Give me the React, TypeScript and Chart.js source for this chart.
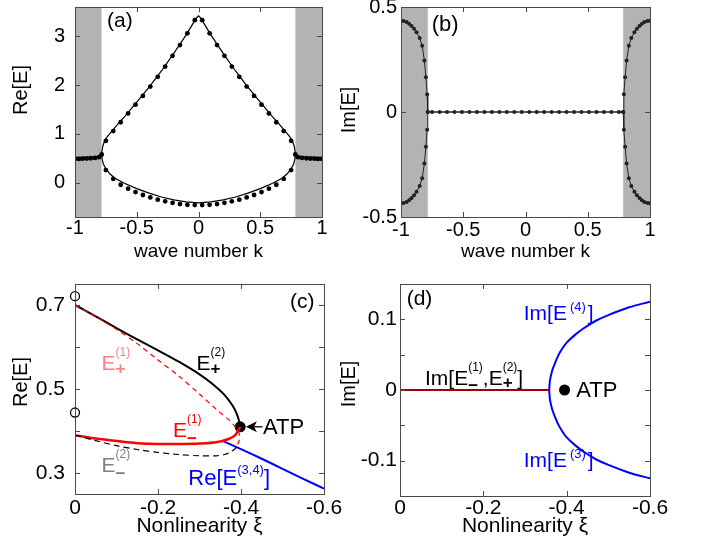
import React, { useEffect, useRef } from "react";
import { Chart, registerables } from "chart.js";

Chart.register(...registerables);

const FONT = '"Liberation Sans", Arial, Helvetica, sans-serif';
Chart.defaults.font.family = FONT;

// ---------------- Panel (a): Re[E] vs wave number k ----------------
const kA_upperLine = [-1, -0.95, -0.9, -0.85, -0.82, -0.8, -0.785, -0.775, -0.76, -0.74, -0.72, -0.65, -0.6, -0.5, -0.4, -0.3, -0.2, -0.1, -0.05, -0.02, 0, 0.02, 0.05, 0.1, 0.2, 0.3, 0.4, 0.5, 0.6, 0.65, 0.72, 0.74, 0.76, 0.775, 0.785, 0.8, 0.82, 0.85, 0.9, 0.95, 1];
const reA_upperLine = [0.52, 0.52, 0.525, 0.53, 0.54, 0.55, 0.6, 0.75, 0.86, 0.94, 1.0, 1.21, 1.35, 1.65, 1.96, 2.29, 2.65, 3.03, 3.24, 3.37, 3.42, 3.37, 3.24, 3.03, 2.65, 2.29, 1.96, 1.65, 1.35, 1.21, 1.0, 0.94, 0.86, 0.75, 0.6, 0.55, 0.54, 0.53, 0.525, 0.52, 0.52];
const kA_lowerLine = [-0.785, -0.78, -0.77, -0.75, -0.72, -0.68, -0.6, -0.5, -0.4, -0.3, -0.2, -0.1, 0, 0.1, 0.2, 0.3, 0.4, 0.5, 0.6, 0.68, 0.72, 0.75, 0.77, 0.78, 0.785];
const reA_lowerLine = [0.6, 0.48, 0.38, 0.29, 0.19, 0.1, -0.01, -0.12, -0.21, -0.29, -0.35, -0.39, -0.41, -0.39, -0.35, -0.29, -0.21, -0.12, -0.01, 0.1, 0.19, 0.29, 0.38, 0.48, 0.6];
const kA_dotsFlat = [-1, -0.968, -0.938, -0.905, -0.873, -0.838, -0.806, -0.784, 0.784, 0.806, 0.838, 0.873, 0.905, 0.938, 0.968, 1];
const reA_dotsFlat = [0.49, 0.49, 0.495, 0.497, 0.503, 0.51, 0.524, 0.58, 0.58, 0.524, 0.51, 0.503, 0.497, 0.495, 0.49, 0.49];
const kA_dotsBand = [-0.75, -0.69, -0.63, -0.57, -0.51, -0.45, -0.39, -0.33, -0.27, -0.21, -0.15, -0.09, -0.03, 0.03, 0.09, 0.15, 0.21, 0.27, 0.33, 0.39, 0.45, 0.51, 0.57, 0.63, 0.69, 0.75];
const reA_dotsUpper = [0.86, 1.06, 1.24, 1.42, 1.6, 1.78, 1.97, 2.17, 2.38, 2.6, 2.82, 3.06, 3.33, 3.33, 3.06, 2.82, 2.6, 2.38, 2.17, 1.97, 1.78, 1.6, 1.42, 1.24, 1.06, 0.86];
const reA_dotsLower = [0.26, 0.08, -0.04, -0.12, -0.19, -0.25, -0.3, -0.345, -0.38, -0.41, -0.435, -0.45, -0.455, -0.455, -0.45, -0.435, -0.41, -0.38, -0.345, -0.3, -0.25, -0.19, -0.12, -0.04, 0.08, 0.26];
const A_BANDS = [[-1, -0.785], [0.785, 1]];
const A_X_TICKS = [-1, -0.5, 0, 0.5, 1];
const A_Y_TICKS = [0, 1, 2, 3];

// ---------------- Panel (b): Im[E] vs wave number k ----------------
const kB_path = [-1, -0.98, -0.955, -0.935, -0.915, -0.895, -0.875, -0.85, -0.83, -0.812, -0.8, -0.79, -0.785, 0.785, 0.79, 0.8, 0.812, 0.83, 0.85, 0.875, 0.895, 0.915, 0.935, 0.955, 0.98, 1];
const imB_pathUp = [0.435, 0.433, 0.428, 0.42, 0.41, 0.397, 0.38, 0.352, 0.315, 0.245, 0.165, 0.085, 0, 0, 0.085, 0.165, 0.245, 0.315, 0.352, 0.38, 0.397, 0.41, 0.42, 0.428, 0.433, 0.435];
const imB_pathDown = [-0.435, -0.433, -0.428, -0.42, -0.41, -0.397, -0.38, -0.352, -0.315, -0.245, -0.165, -0.085, 0, 0, -0.085, -0.165, -0.245, -0.315, -0.352, -0.38, -0.397, -0.41, -0.42, -0.428, -0.433, -0.435];
const kB_dotsMid = [-0.75, -0.69, -0.63, -0.57, -0.51, -0.45, -0.39, -0.33, -0.27, -0.21, -0.15, -0.09, -0.03, 0.03, 0.09, 0.15, 0.21, 0.27, 0.33, 0.39, 0.45, 0.51, 0.57, 0.63, 0.69, 0.75];
const imB_dotsMid = [0, 0, 0, 0, 0, 0, 0, 0, 0, 0, 0, 0, 0, 0, 0, 0, 0, 0, 0, 0, 0, 0, 0, 0, 0, 0];
const B_BANDS = [[-1, -0.785], [0.785, 1]];
const B_X_TICKS = [-1, -0.5, 0, 0.5, 1];
const B_Y_TICKS = [-0.5, 0, 0.5];

// ---------------- Panel (c): Re[E] vs nonlinearity ----------------
const xiC_Ep2 = [0, -0.05, -0.1, -0.15, -0.2, -0.25, -0.3, -0.33, -0.36, -0.38, -0.39, -0.395, -0.398];
const reC_Ep2 = [0.7, 0.673, 0.645, 0.618, 0.592, 0.565, 0.535, 0.513, 0.486, 0.46, 0.44, 0.425, 0.41];
const xiC_Ep1 = [0, -0.05, -0.1, -0.15, -0.2, -0.25, -0.3, -0.34, -0.37, -0.386, -0.394, -0.397, -0.395, -0.392];
const reC_Ep1 = [0.7, 0.672, 0.642, 0.608, 0.569, 0.531, 0.488, 0.452, 0.427, 0.41, 0.398, 0.386, 0.375, 0.368];
const xiC_Em1 = [0, -0.05, -0.1, -0.15, -0.2, -0.26, -0.3, -0.34, -0.37, -0.386, -0.394, -0.398];
const reC_Em1 = [0.39, 0.382, 0.376, 0.371, 0.369, 0.369, 0.37, 0.373, 0.381, 0.39, 0.403, 0.41];
const xiC_Em2 = [0, -0.05, -0.1, -0.15, -0.2, -0.25, -0.3, -0.34, -0.36, -0.375, -0.388, -0.392];
const reC_Em2 = [0.39, 0.377, 0.365, 0.356, 0.349, 0.344, 0.341, 0.341, 0.344, 0.35, 0.36, 0.368];
const xiC_E34 = [-0.357, -0.4, -0.45, -0.5, -0.55, -0.6];
const reC_E34 = [0.376, 0.357, 0.334, 0.31, 0.286, 0.263];
const xiC_open = [0, 0];
const reC_open = [0.721, 0.444];
const xiC_atp = [-0.398];
const reC_atp = [0.41];
const C_X_TICKS = [0, -0.2, -0.4, -0.6];
const C_Y_TICKS = [0.3, 0.5, 0.7];
const C_Y_MARKS = [0.3, 0.4, 0.5, 0.6, 0.7];

// ---------------- Panel (d): Im[E] vs nonlinearity ----------------
const xiD_real = [0, -0.358];
const imD_real = [0, 0];
const xiD_branch = [-0.358, -0.36, -0.365, -0.37, -0.38, -0.39, -0.4, -0.42, -0.44, -0.47, -0.5, -0.55, -0.6];
const imD_E4 = [0, 0.014, 0.027, 0.035, 0.049, 0.059, 0.067, 0.078, 0.087, 0.098, 0.106, 0.117, 0.125];
const imD_E3 = [0, -0.014, -0.027, -0.035, -0.049, -0.059, -0.067, -0.078, -0.087, -0.098, -0.106, -0.117, -0.125];
const xiD_atp = [-0.395];
const imD_atp = [0];
const D_X_TICKS = [0, -0.2, -0.4, -0.6];
const D_Y_TICKS = [-0.1, 0, 0.1];
const D_Y_MARKS = [-0.1, -0.05, 0, 0.05, 0.1];

// ---------------- helpers ----------------
const pts = (xs: number[], ys: number[]) => xs.map((x, i) => ({ x, y: ys[i] }));

type Seg = { t: string; size: number; dy?: number; dx?: number; bold?: boolean; stack?: boolean };

function drawRich(ctx: CanvasRenderingContext2D, x: number, y: number, segs: Seg[], color: string) {
  ctx.save();
  ctx.fillStyle = color;
  ctx.textAlign = "left";
  ctx.textBaseline = "alphabetic";
  let cursor = x;
  let segStart = x;
  for (const s of segs) {
    ctx.font = `${s.bold ? "bold " : ""}${s.size}px ${FONT}`;
    const w = ctx.measureText(s.t).width;
    const sx = (s.stack ? segStart : cursor) + (s.dx || 0);
    ctx.fillText(s.t, sx, y + (s.dy || 0));
    if (s.stack) cursor = Math.max(cursor, sx + w);
    else {
      segStart = sx;
      cursor = sx + w;
    }
  }
  ctx.restore();
}

type Label = { x: number; y: number; segs: Seg[]; color: string };

interface Panel {
  left: number; top: number; width: number; height: number;
  pad: { left: number; top: number; right: number; bottom: number };
  yAxisWidth: number; xAxisHeight: number;
  xMin: number; xMax: number; yMin: number; yMax: number; reverseX?: boolean;
  xTicks: number[]; yTicks: number[]; xMarks: number[]; yMarks: number[];
  tickSize: number; xTickPad: number; yTickPad: number;
  xTitle: string; xTitleSize: number; xTitlePad: number;
  yTitle: string; yTitleSize: number; yTitleX: number; yTitleY: number;
  bands?: number[][];
  datasets: any[];
  labels: Label[];
  arrow?: { from: [number, number]; to: [number, number] };
}

const fmt = (v: number) => (v === 0 ? "0" : String(v));

function decorPlugin(p: Panel) {
  return {
    id: "panelDecor",
    beforeDatasetsDraw(chart: any) {
      const { ctx, chartArea: a, scales } = chart;
      if (p.bands) {
        ctx.save();
        ctx.fillStyle = "#b3b3b3";
        for (const [b0, b1] of p.bands) {
          const x0 = scales.x.getPixelForValue(b0);
          const x1 = scales.x.getPixelForValue(b1);
          ctx.fillRect(Math.min(x0, x1), a.top, Math.abs(x1 - x0), a.bottom - a.top);
        }
        ctx.restore();
      }
    },
    afterDatasetsDraw(chart: any) {
      const { ctx, chartArea: a, scales } = chart;
      const sx = scales.x;
      const sy = scales.y;
      ctx.save();
      ctx.strokeStyle = "#4a4a4a";
      ctx.lineWidth = 1;
      const L = 5;
      ctx.beginPath();
      for (const v of p.xMarks) {
        const px = Math.round(sx.getPixelForValue(v)) + 0.5;
        ctx.moveTo(px, a.bottom); ctx.lineTo(px, a.bottom - L);
        ctx.moveTo(px, a.top); ctx.lineTo(px, a.top + L);
      }
      for (const v of p.yMarks) {
        const py = Math.round(sy.getPixelForValue(v)) + 0.5;
        ctx.moveTo(a.left, py); ctx.lineTo(a.left + L, py);
        ctx.moveTo(a.right, py); ctx.lineTo(a.right - L, py);
      }
      ctx.stroke();
      ctx.strokeRect(Math.round(a.left) + 0.5, Math.round(a.top) + 0.5, Math.round(a.right - a.left), Math.round(a.bottom - a.top));
      ctx.restore();

      // y-axis title
      ctx.save();
      ctx.fillStyle = "#000";
      ctx.font = `${p.yTitleSize}px ${FONT}`;
      ctx.translate(p.yTitleX, p.yTitleY);
      ctx.rotate(-Math.PI / 2);
      ctx.textAlign = "center";
      ctx.textBaseline = "middle";
      ctx.fillText(p.yTitle, 0, 0);
      ctx.restore();

      for (const lb of p.labels) {
        drawRich(ctx, sx.getPixelForValue(lb.x), sy.getPixelForValue(lb.y), lb.segs, lb.color);
      }
      if (p.arrow) {
        const x0 = sx.getPixelForValue(p.arrow.from[0]);
        const y0 = sy.getPixelForValue(p.arrow.from[1]);
        const x1 = sx.getPixelForValue(p.arrow.to[0]);
        const y1 = sy.getPixelForValue(p.arrow.to[1]);
        ctx.save();
        ctx.strokeStyle = "#000";
        ctx.fillStyle = "#000";
        ctx.lineWidth = 1.3;
        ctx.beginPath();
        ctx.moveTo(x0, y0);
        ctx.lineTo(x1 + 8, y1);
        ctx.stroke();
        ctx.beginPath();
        ctx.moveTo(x1, y1);
        ctx.lineTo(x1 + 11, y1 - 5.5);
        ctx.lineTo(x1 + 8, y1);
        ctx.lineTo(x1 + 11, y1 + 5.5);
        ctx.closePath();
        ctx.fill();
        ctx.restore();
      }
    },
  };
}

function buildConfig(p: Panel): any {
  return {
    type: "scatter",
    data: { datasets: p.datasets },
    options: {
      responsive: false,
      maintainAspectRatio: false,
      animation: false,
      devicePixelRatio: 1,
      events: [],
      layout: { autoPadding: false, padding: p.pad },
      plugins: { legend: { display: false }, tooltip: { enabled: false } },
      scales: {
        x: {
          type: "linear",
          position: "bottom",
          min: p.xMin,
          max: p.xMax,
          reverse: !!p.reverseX,
          grid: { display: false, drawTicks: false },
          border: { display: false },
          afterBuildTicks: (s: any) => { s.ticks = p.xTicks.map((v) => ({ value: v })); },
          afterFit: (s: any) => { s.height = p.xAxisHeight; s.paddingLeft = 0; s.paddingRight = 0; },
          ticks: {
            autoSkip: false, maxRotation: 0, minRotation: 0, padding: p.xTickPad, color: "#000",
            font: { size: p.tickSize, family: FONT },
            callback: (v: number) => fmt(v),
          },
          title: {
            display: true, text: p.xTitle, color: "#000",
            font: { size: p.xTitleSize, family: FONT },
            padding: { top: 0, bottom: p.xTitlePad },
          },
        },
        y: {
          type: "linear",
          position: "left",
          min: p.yMin,
          max: p.yMax,
          grid: { display: false, drawTicks: false },
          border: { display: false },
          afterBuildTicks: (s: any) => { s.ticks = p.yTicks.map((v) => ({ value: v })); },
          afterFit: (s: any) => { s.width = p.yAxisWidth; s.paddingTop = 0; s.paddingBottom = 0; },
          ticks: {
            autoSkip: false, padding: p.yTickPad, color: "#000",
            font: { size: p.tickSize, family: FONT },
            callback: (v: number) => fmt(v),
          },
          title: { display: false },
        },
      },
    },
    plugins: [decorPlugin(p)],
  };
}

const lineDs = (data: any[], color: string, width: number, extra: any = {}) => ({
  data, showLine: true, borderColor: color, borderWidth: width, pointRadius: 0, fill: false, tension: 0, ...extra,
});
const dotDs = (data: any[], color: string, r: number, extra: any = {}) => ({
  data, showLine: false, pointRadius: r, pointBackgroundColor: color, pointBorderColor: color, pointBorderWidth: 0, ...extra,
});

const SUP = 12;
const SUB = 17;

const panels: Panel[] = [
  {
    left: 0, top: 0, width: 340, height: 272,
    pad: { left: 0, top: 7, right: 18, bottom: 0 },
    yAxisWidth: 75, xAxisHeight: 55,
    xMin: -1, xMax: 1, yMin: -0.7, yMax: 3.6,
    xTicks: A_X_TICKS, yTicks: A_Y_TICKS, xMarks: A_X_TICKS, yMarks: A_Y_TICKS,
    tickSize: 20, xTickPad: -1, yTickPad: 10,
    xTitle: "wave number k", xTitleSize: 19, xTitlePad: 9,
    yTitle: "Re[E]", yTitleSize: 20, yTitleX: 21.5, yTitleY: 90,
    bands: A_BANDS,
    datasets: [
      lineDs(pts(kA_upperLine, reA_upperLine), "#000", 1.2),
      lineDs(pts(kA_lowerLine, reA_lowerLine), "#000", 1.2),
      dotDs(pts(kA_dotsFlat, reA_dotsFlat), "#000", 2.4),
      dotDs(pts(kA_dotsBand, reA_dotsUpper), "#000", 2.4),
      dotDs(pts(kA_dotsBand, reA_dotsLower), "#000", 2.4),
    ],
    labels: [{ x: -0.741, y: 3.2, segs: [{ t: "(a)", size: 21 }], color: "#000" }],
  },
  {
    left: 335, top: 0, width: 369, height: 272,
    pad: { left: 0, top: 7, right: 54, bottom: 0 },
    yAxisWidth: 66, xAxisHeight: 55,
    xMin: -1, xMax: 1, yMin: -0.5, yMax: 0.5,
    xTicks: B_X_TICKS, yTicks: B_Y_TICKS, xMarks: B_X_TICKS, yMarks: [0],
    tickSize: 20, xTickPad: 1, yTickPad: 4,
    xTitle: "wave number k", xTitleSize: 19, xTitlePad: 9,
    yTitle: "Im[E]", yTitleSize: 20, yTitleX: 14, yTitleY: 110,
    bands: B_BANDS,
    datasets: [
      lineDs(pts(kB_path, imB_pathUp), "#222", 1),
      lineDs(pts(kB_path, imB_pathDown), "#222", 1),
      dotDs(pts(kB_path, imB_pathUp), "#222", 2),
      dotDs(pts(kB_path, imB_pathDown), "#222", 2),
      dotDs(pts(kB_dotsMid, imB_dotsMid), "#222", 2),
    ],
    labels: [{ x: -0.753, y: 0.385, segs: [{ t: "(b)", size: 22 }], color: "#000" }],
  },
  {
    left: 0, top: 272, width: 352, height: 283,
    pad: { left: 0, top: 12, right: 28, bottom: 0 },
    yAxisWidth: 75, xAxisHeight: 61,
    xMin: -0.6, xMax: 0, yMin: 0.25, yMax: 0.75, reverseX: true,
    xTicks: C_X_TICKS, yTicks: C_Y_TICKS, xMarks: C_X_TICKS, yMarks: C_Y_MARKS,
    tickSize: 21, xTickPad: 2, yTickPad: 10,
    xTitle: "Nonlinearity ξ", xTitleSize: 21, xTitlePad: 16,
    yTitle: "Re[E]", yTitleSize: 20, yTitleX: 21, yTitleY: 110,
    datasets: [
      lineDs(pts(xiC_Ep1, reC_Ep1), "#ff0000", 1.2, { borderDash: [5, 4], tension: 0.3 }),
      lineDs(pts(xiC_Em2, reC_Em2), "#000", 1.2, { borderDash: [6, 4], tension: 0.3 }),
      lineDs(pts(xiC_Ep2, reC_Ep2), "#000", 2, { tension: 0.3 }),
      lineDs(pts(xiC_Em1, reC_Em1), "#ff0000", 2.5, { tension: 0.3 }),
      lineDs(pts(xiC_E34, reC_E34), "#0000ff", 2, { tension: 0.3 }),
      dotDs(pts(xiC_open, reC_open), "#fff", 4.5, { pointBorderColor: "#000", pointBorderWidth: 1.3, clip: false }),
      dotDs(pts(xiC_atp, reC_atp), "#000", 5.5, { clip: false }),
    ],
    labels: [
      { x: -0.518, y: 0.694, segs: [{ t: "(c)", size: 21 }], color: "#000" },
      { x: -0.064, y: 0.546, segs: [{ t: "E", size: 21 }, { t: "(1)", size: SUP, dy: -14 }, { t: "+", size: SUB, dy: 4, stack: true, bold: true }], color: "#ff8080" },
      { x: -0.293, y: 0.546, segs: [{ t: "E", size: 21 }, { t: "(2)", size: SUP, dy: -14 }, { t: "+", size: SUB, dy: 4, stack: true, bold: true }], color: "#000" },
      { x: -0.236, y: 0.385, segs: [{ t: "E", size: 21 }, { t: "(1)", size: SUP, dy: -14 }, { t: "−", size: SUB, dy: 7, stack: true, bold: true }], color: "#ff0000" },
      { x: -0.064, y: 0.302, segs: [{ t: "E", size: 21 }, { t: "(2)", size: SUP, dy: -14 }, { t: "−", size: SUB, dy: 7, stack: true, bold: true }], color: "#808080" },
      { x: -0.273, y: 0.271, segs: [{ t: "Re[E", size: 22 }, { t: "(3,4)", size: 13, dy: -11 }, { t: "]", size: 22 }], color: "#0000ff" },
      { x: -0.453, y: 0.3935, segs: [{ t: "ATP", size: 22 }], color: "#000" },
    ],
    arrow: { from: [-0.452, 0.41], to: [-0.412, 0.41] },
  },
  {
    left: 335, top: 272, width: 369, height: 283,
    pad: { left: 0, top: 12, right: 54, bottom: 0 },
    yAxisWidth: 65, xAxisHeight: 59,
    xMin: -0.6, xMax: 0, yMin: -0.15, yMax: 0.15, reverseX: true,
    xTicks: D_X_TICKS, yTicks: D_Y_TICKS, xMarks: D_X_TICKS, yMarks: D_Y_MARKS,
    tickSize: 21, xTickPad: 0, yTickPad: 3,
    xTitle: "Nonlinearity ξ", xTitleSize: 21, xTitlePad: 16,
    yTitle: "Im[E]", yTitleSize: 20, yTitleX: 14, yTitleY: 112,
    datasets: [
      lineDs(pts(xiD_real, imD_real), "#a00000", 2),
      lineDs(pts(xiD_branch, imD_E4), "#0000ff", 2, { tension: 0.3 }),
      lineDs(pts(xiD_branch, imD_E3), "#0000ff", 2, { tension: 0.3 }),
      dotDs(pts(xiD_atp, imD_atp), "#000", 5.5, { clip: false }),
    ],
    labels: [
      { x: -0.016, y: 0.12, segs: [{ t: "(d)", size: 21 }], color: "#000" },
      { x: -0.297, y: 0.0985, segs: [{ t: "Im[E", size: 21 }, { t: "(4)", size: 13, dy: -9, dx: 3 }, { t: "]", size: 21, dx: 2 }], color: "#0000ff" },
      { x: -0.297, y: -0.109, segs: [{ t: "Im[E", size: 21 }, { t: "(3)", size: 13, dy: -9, dx: 3 }, { t: "]", size: 21, dx: 2 }], color: "#0000ff" },
      {
        x: -0.06, y: 0.0066,
        segs: [
          { t: "Im[E", size: 21 }, { t: "(1)", size: SUP, dy: -14 }, { t: "−", size: SUB, dy: 6, stack: true, bold: true },
          { t: ",E", size: 21 }, { t: "(2)", size: SUP, dy: -14 }, { t: "+", size: SUB, dy: 3, stack: true, bold: true },
          { t: "]", size: 21 },
        ],
        color: "#000",
      },
      { x: -0.423, y: -0.0103, segs: [{ t: "ATP", size: 22 }], color: "#000" },
    ],
  },
];

function PanelChart({ panel }: { panel: Panel }) {
  const ref = useRef<HTMLCanvasElement>(null);
  useEffect(() => {
    if (!ref.current) return;
    const chart = new Chart(ref.current, buildConfig(panel));
    return () => chart.destroy();
  }, [panel]);
  return (
    <canvas
      ref={ref}
      width={panel.width}
      height={panel.height}
      style={{ position: "absolute", left: panel.left, top: panel.top, width: panel.width, height: panel.height }}
    />
  );
}

export default function App() {
  return (
    <div style={{ position: "fixed", left: 0, top: 0, width: 704, height: 555, background: "#fff", overflow: "hidden" }}>
      {panels.map((p, i) => (
        <PanelChart key={i} panel={p} />
      ))}
    </div>
  );
}
